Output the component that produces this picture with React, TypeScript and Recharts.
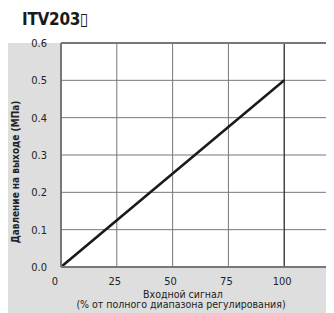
import {
  LineChart,
  Line,
  XAxis,
  YAxis,
  CartesianGrid,
  ReferenceLine,
} from "recharts";

// ── Data ──────────────────────────────────────────────────────────────────────

const SIGNAL = [0, 100]; // input signal, % of full span
const PRESSURE = [0, 0.5]; // output pressure, MPa
const X_TICKS = [0, 25, 50, 75, 100];
const Y_TICKS = [0, 0.1, 0.2, 0.3, 0.4, 0.5, 0.6];

const TITLE = "ITV203\u25AF";
const Y_LABEL = "Давление на выходе (МПа)";
const X_LABEL_1 = "Входной сигнал";
const X_LABEL_2 = "(% от полного диапазона регулирования)";

const data = SIGNAL.map((s, i) => ({ signal: s, pressure: PRESSURE[i] }));

const FONT = "'DejaVu Sans Condensed', 'Liberation Sans Narrow', 'Liberation Sans', sans-serif";
const TEXT = "#222";

// ── Axis bits ─────────────────────────────────────────────────────────────────

function XTick({ x, y, payload }: any) {
  const dx = payload.value === 0 ? -6 : -2;
  return (
    <text x={x + dx} y={y + 10} textAnchor="middle" fontSize={11} fill={TEXT} fontFamily={FONT}>
      {payload.value}
    </text>
  );
}

function XLabel({ viewBox }: any) {
  const cx = viewBox.x + 122;
  const y = viewBox.y;
  return (
    <g fontFamily={FONT} fontSize={10.5} fill={TEXT} textAnchor="middle">
      <text x={cx} y={y + 30.5}>{X_LABEL_1}</text>
      <text x={cx - 2} y={y + 41}>{X_LABEL_2}</text>
    </g>
  );
}

export default function App() {
  return (
    <div style={{ position: "relative", width: 334, height: 313, margin: "-8px 0 0 -8px", background: "#fff", overflow: "hidden" }}>
      {/* title */}
      <div
        style={{
          position: "absolute",
          left: 22,
          top: 9,
          fontFamily: FONT,
          fontWeight: 700,
          fontSize: 17,
          color: "#1a1a1a",
          letterSpacing: -0.3,
        }}
      >
        {TITLE}
      </div>

      {/* grey panel behind the axes */}
      <div
        style={{
          position: "absolute",
          left: 7,
          top: 43,
          width: 327,
          height: 270,
          background: "#dedede",
          borderLeft: "1px solid #555",
        }}
      />

      <div style={{ position: "absolute", left: 0, top: 0 }}>
        <LineChart width={334} height={313} data={data} margin={{ top: 43, right: 0, bottom: 0, left: 7 }}>
          <CartesianGrid
            stroke="#777"
            strokeWidth={1}
            fill="#fff"
            fillOpacity={1}
            horizontalValues={Y_TICKS}
            verticalValues={X_TICKS}
          />
          <ReferenceLine x={100} stroke="#222" strokeWidth={1} />
          <ReferenceLine y={0.6} stroke="#777" strokeWidth={2} />
          <XAxis
            dataKey="signal"
            type="number"
            domain={[0, 122.3]}
            ticks={X_TICKS}
            allowDataOverflow
            height={46}
            axisLine={{ stroke: "#777", strokeWidth: 2 }}
            tickLine={false}
            tick={<XTick />}
            label={<XLabel />}
          />
          <YAxis
            type="number"
            domain={[0, 0.6]}
            ticks={Y_TICKS}
            width={54}
            axisLine={{ stroke: "#777", strokeWidth: 2 }}
            tickLine={false}
            tickMargin={8}
            tickFormatter={(v: number) => v.toFixed(1)}
            tick={{ fontSize: 11, fill: TEXT, fontFamily: FONT }}
            label={{
              value: Y_LABEL,
              angle: -90,
              position: "insideLeft",
              offset: 0,
              dx: 8,
              dy: 17,
              style: { fontSize: 10, fontWeight: 700, fill: TEXT, fontFamily: FONT, textAnchor: "middle" },
            }}
          />
          <Line
            dataKey="pressure"
            stroke="#1a1a1a"
            strokeWidth={2.5}
            dot={false}
            isAnimationActive={false}
          />
        </LineChart>
      </div>
    </div>
  );
}
